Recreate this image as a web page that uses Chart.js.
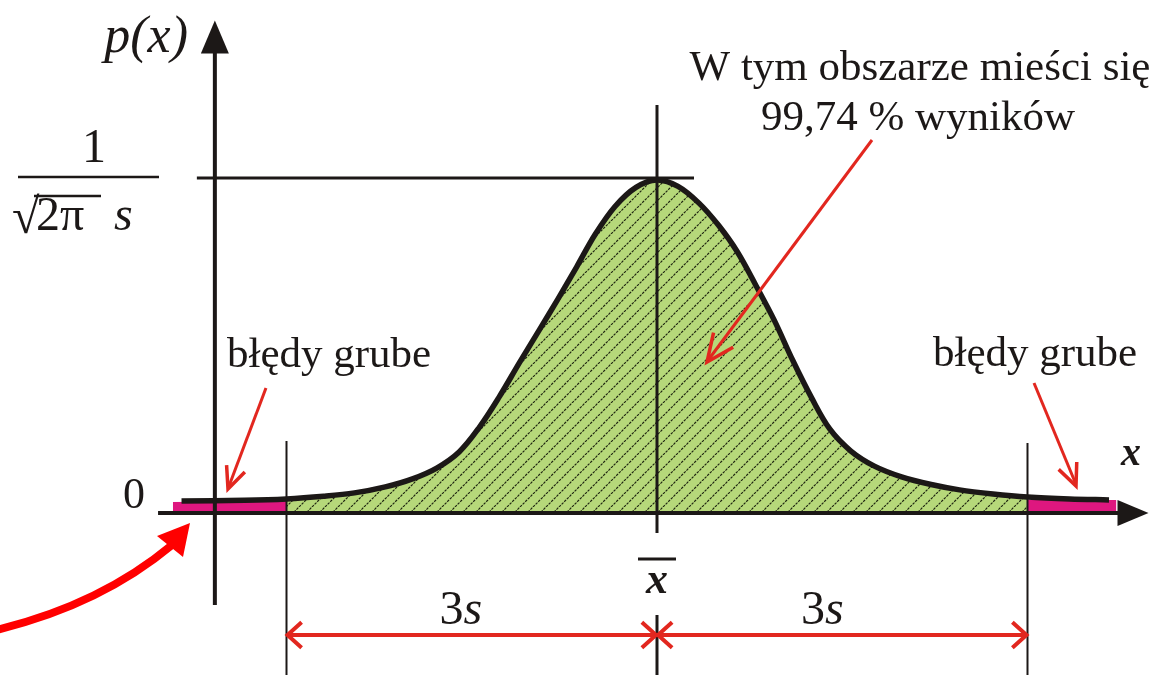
<!DOCTYPE html>
<html><head><meta charset="utf-8">
<script src="https://cdn.jsdelivr.net/npm/chart.js@4/dist/chart.umd.min.js"></script>
<style>html,body{margin:0;padding:0;background:#fff;overflow:hidden}canvas{display:block}</style>
</head><body>
<canvas id="c" width="1159" height="675"></canvas>
<script>
// ---- data (x in units of s around the mean, y relative to peak 1/(sqrt(2pi) s)) ----
const curveX = [-3.85,-3.34,-3.00,-2.70,-2.45,-2.20,-1.98,-1.78,-1.60,-1.44,-1.28,-1.11,-0.95,-0.80,-0.65,-0.50,-0.34,-0.17,0.00,0.17,0.34,0.50,0.65,0.80,0.95,1.10,1.25,1.40,1.57,1.76,1.98,2.22,2.45,2.72,3.00,3.34,3.66];
const curveY = [0.036,0.038,0.042,0.050,0.060,0.078,0.102,0.135,0.183,0.255,0.345,0.451,0.548,0.640,0.735,0.832,0.915,0.972,0.994,0.975,0.925,0.858,0.780,0.680,0.575,0.455,0.345,0.250,0.185,0.140,0.108,0.085,0.069,0.057,0.048,0.042,0.039];
const innerRange = [-3, 3];
const leftTailX = [-3.92, -3.00];
const leftTailY = [0.033, 0.036];
const rightTailX = [3.00, 3.72];
const rightTailY = [0.039, 0.039];
const sigmaMarks = [-3, 0, 3];
const peakLevel = 1;
const yAxisAt = -3.58;
const xAxisSpan = [-4.04, 3.98];
const yAxisSpan = [-0.275, 1.47];
const yTickLabels = ['0'];
const dimLabels = ['3', 's'];
const topNote = ['W tym obszarze mieści się', '99,74 % wyników'];
const tailNote = 'błędy grube';
const axisNames = ['p(x)', 'x'];
const meanLabel = 'x';

// ---- build ----
const pts = (xs, ys) => xs.map((v, i) => ({x: v, y: ys[i]}));
const innerPts = pts(curveX, curveY).filter(p => p.x >= innerRange[0] && p.x <= innerRange[1]);

function hatch() {
  const s = 13, c = document.createElement('canvas');
  c.width = s; c.height = s;
  const g = c.getContext('2d');
  g.fillStyle = '#B6D87A'; g.fillRect(0, 0, s, s);
  g.strokeStyle = 'rgba(20,24,10,0.95)'; g.lineWidth = 1.15;
  g.setLineDash([2.6, 1.1]);
  for (const k of [-1, 0, 1]) { g.beginPath(); g.moveTo(k * s, s); g.lineTo(k * s + s, 0); g.stroke(); }
  return g.createPattern(c, 'repeat');
}

const SERIF = "'Liberation Serif','Times New Roman',serif";
const BLACK = '#1c1817', RED = '#E2271F';

function line(ctx, x1, y1, x2, y2, w, col) {
  ctx.save(); ctx.strokeStyle = col; ctx.lineWidth = w; ctx.lineCap = 'butt';
  ctx.beginPath(); ctx.moveTo(x1, y1); ctx.lineTo(x2, y2); ctx.stroke(); ctx.restore();
}
function chevron(ctx, tx, ty, fx, fy, len, ang, w, col) {
  const a = Math.atan2(fy - ty, fx - tx), r = ang * Math.PI / 180;
  ctx.save(); ctx.strokeStyle = col; ctx.lineWidth = w; ctx.lineCap = 'butt'; ctx.lineJoin = 'miter';
  ctx.beginPath();
  ctx.moveTo(tx + len * Math.cos(a + r), ty + len * Math.sin(a + r));
  ctx.lineTo(tx, ty);
  ctx.lineTo(tx + len * Math.cos(a - r), ty + len * Math.sin(a - r));
  ctx.stroke(); ctx.restore();
}
function tri(ctx, p, col) {
  ctx.save(); ctx.fillStyle = col; ctx.beginPath();
  ctx.moveTo(p[0][0], p[0][1]); ctx.lineTo(p[1][0], p[1][1]); ctx.lineTo(p[2][0], p[2][1]);
  ctx.closePath(); ctx.fill(); ctx.restore();
}
function text(ctx, t, x, y, font, align, col) {
  ctx.save(); ctx.font = font; ctx.fillStyle = col || BLACK; ctx.textAlign = align || 'left';
  ctx.textBaseline = 'alphabetic'; ctx.fillText(t, x, y); ctx.restore();
}

const overlay = {
  id: 'overlay',
  afterDatasetsDraw(chart) {
    const {ctx, scales: {x, y}} = chart;
    const X = v => x.getPixelForValue(v), Y = v => y.getPixelForValue(v);
    const y0 = Y(0), yPeak = Y(peakLevel);
    const xL = X(sigmaMarks[0]), xM = X(sigmaMarks[1]), xR = X(sigmaMarks[2]);
    const xA = X(yAxisAt);

    // x axis
    const xEnd = X(xAxisSpan[1]);
    line(ctx, X(xAxisSpan[0]), y0, xEnd - 28, y0, 4, BLACK);
    tri(ctx, [[xEnd, y0], [xEnd - 31, y0 - 13], [xEnd - 31, y0 + 13]], BLACK);
    // y axis
    const yTop = Y(yAxisSpan[1]);
    line(ctx, xA, Y(yAxisSpan[0]), xA, yTop + 30, 4, BLACK);
    tri(ctx, [[xA, yTop], [xA - 14, yTop + 33], [xA + 14, yTop + 33]], BLACK);
    // peak level line
    line(ctx, xA - 18, yPeak, xM + 37, yPeak, 3, BLACK);
    // sigma verticals
    line(ctx, xL, y0 - 72, xL, 676, 2, BLACK);
    line(ctx, xR, y0 - 70, xR, 676, 2, BLACK);
    line(ctx, xM, yPeak - 73, xM, y0 + 20, 3, BLACK);
    line(ctx, xM, y0 + 102, xM, 676, 3, BLACK);

    // dimension arrows
    const dY = y0 + 122;
    line(ctx, xL + 1, dY, xR - 1, dY, 4, RED);
    chevron(ctx, xL + 1, dY, xL + 20, dY, 19, 42, 4, RED);
    chevron(ctx, xM - 1, dY, xM - 20, dY, 19, 42, 4, RED);
    chevron(ctx, xM + 1, dY, xM + 20, dY, 19, 42, 4, RED);
    chevron(ctx, xR - 1, dY, xR - 20, dY, 19, 42, 4, RED);
    const f3 = '48px ' + SERIF, fs = 'italic 48px ' + SERIF;
    for (const cx of [(xL + xM) / 2 - 11, (xM + xR) / 2 - 20]) {
      ctx.save(); ctx.font = f3; const w3 = ctx.measureText(dimLabels[0]).width;
      ctx.font = fs; const ws = ctx.measureText(dimLabels[1]).width; ctx.restore();
      const sx = cx - (w3 + ws) / 2;
      text(ctx, dimLabels[0], sx, y0 + 111, f3);
      text(ctx, dimLabels[1], sx + w3, y0 + 111, fs);
    }
    // mean label
    line(ctx, xM - 19, y0 + 46, xM + 19, y0 + 46, 3, BLACK);
    text(ctx, meanLabel, xM, y0 + 80, 'italic bold 44px ' + SERIF, 'center');

    // y labels
    text(ctx, yTickLabels[0], 134, y0 - 5, '44px ' + SERIF, 'center');
    text(ctx, '1', 94, yPeak - 16, '48px ' + SERIF, 'center');
    line(ctx, 18, yPeak - 1, 159, yPeak - 1, 2.5, BLACK);
    text(ctx, '√', 12, yPeak + 55, '50px ' + SERIF, 'left');
    text(ctx, '2π', 36, yPeak + 52, '48px ' + SERIF, 'left');
    line(ctx, 34, yPeak + 18, 101, yPeak + 18, 2.5, BLACK);
    text(ctx, 's', 114, yPeak + 52, 'italic 48px ' + SERIF, 'left');
    // axis names
    text(ctx, axisNames[0], 188, 52, 'italic 52px ' + SERIF, 'right');
    text(ctx, axisNames[1], 1121, y0 - 48, 'italic bold 40px ' + SERIF, 'left');

    // notes
    text(ctx, topNote[0], 920, 80, '43px ' + SERIF, 'center');
    text(ctx, topNote[1], 918, 130, '43px ' + SERIF, 'center');
    text(ctx, tailNote, 227, 367, '43px ' + SERIF, 'left');
    text(ctx, tailNote, 933, 366, '43px ' + SERIF, 'left');

    // thin red arrows
    line(ctx, 266, 388, 229, 486, 3, RED);
    chevron(ctx, 228, 489, 266, 388, 24, 24, 3.5, RED);
    line(ctx, 1034, 383, 1075, 482, 3, RED);
    chevron(ctx, 1076, 486, 1034, 383, 24, 24, 3.5, RED);
    line(ctx, 872, 140, 709, 359, 3, RED);
    chevron(ctx, 707, 362, 872, 140, 30, 24, 3.5, RED);

    // big curved arrow
    ctx.save(); ctx.strokeStyle = '#FF0000'; ctx.lineWidth = 8; ctx.lineCap = 'butt';
    ctx.beginPath(); ctx.moveTo(-4, 630); ctx.quadraticCurveTo(100, 605, 172, 545); ctx.stroke(); ctx.restore();
    tri(ctx, [[190, 523], [157, 536], [183, 557]], '#FF0000');
  }
};

new Chart(document.getElementById('c'), {
  type: 'scatter',
  data: {
    datasets: [
      {data: pts(curveX, curveY), showLine: true, fill: false, borderColor: BLACK, borderWidth: 5.5,
       pointRadius: 0, tension: 0.35, order: 1},
      {data: innerPts, showLine: true, fill: 'origin', backgroundColor: hatch(), borderWidth: 0,
       borderColor: 'rgba(0,0,0,0)', pointRadius: 0, tension: 0.35, order: 5},
      {data: pts(leftTailX, leftTailY), showLine: true, fill: 'origin', backgroundColor: '#DE177F',
       borderWidth: 0, borderColor: 'rgba(0,0,0,0)', pointRadius: 0, order: 4},
      {data: pts(rightTailX, rightTailY), showLine: true, fill: 'origin', backgroundColor: '#DE177F',
       borderWidth: 0, borderColor: 'rgba(0,0,0,0)', pointRadius: 0, order: 4}
    ]
  },
  options: {
    responsive: false, animation: false, events: [],
    layout: {autoPadding: false, padding: 0},
    plugins: {legend: {display: false}, tooltip: {enabled: false}},
    scales: {
      x: {type: 'linear', display: false, min: -5.3198, max: 4.0648},
      y: {type: 'linear', display: false, min: -0.4836, max: 1.5313}
    }
  },
  plugins: [overlay]
});
</script>
</body></html>
